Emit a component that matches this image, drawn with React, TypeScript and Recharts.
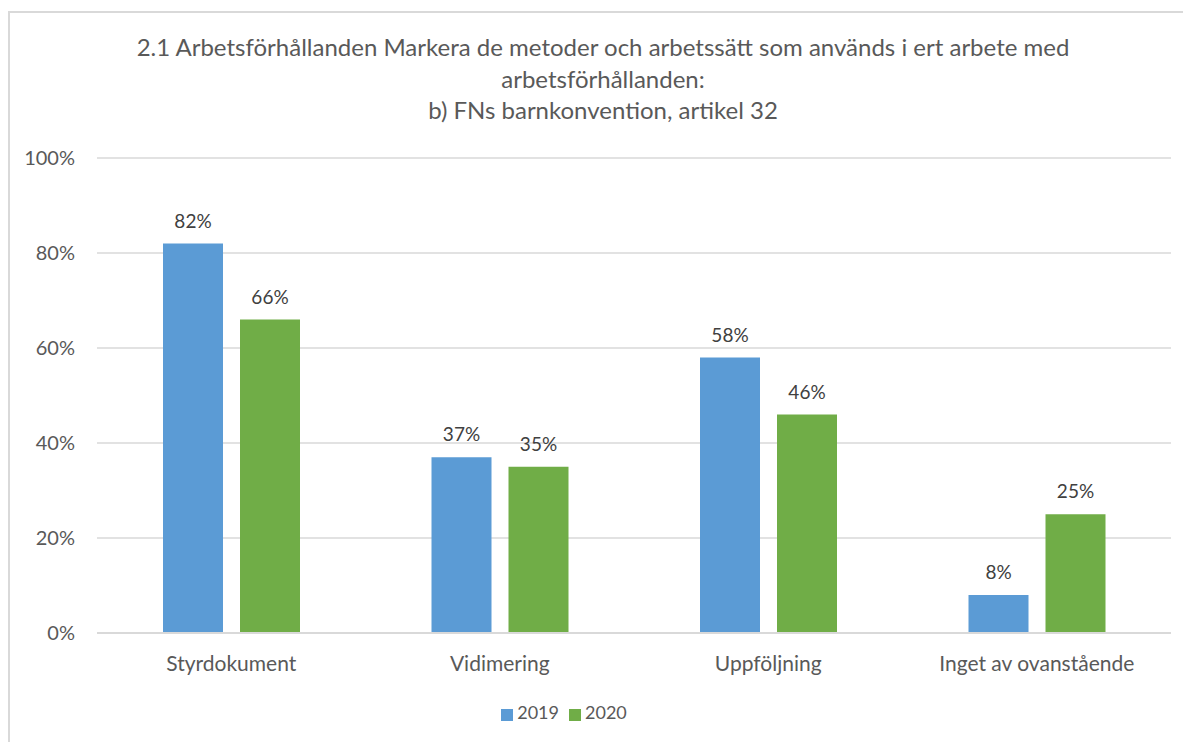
import React from "react"
import { Bar, BarChart, CartesianGrid, LabelList, Legend, XAxis, YAxis } from "recharts"

const categories = ["Styrdokument", "Vidimering", "Uppföljning", "Inget av ovanstående"]
const values2019 = [82, 37, 58, 8]
const values2020 = [66, 35, 46, 25]
const yTicks = [0, 20, 40, 60, 80, 100]

const titleLines = [
  "2.1 Arbetsförhållanden Markera de metoder och arbetssätt som används i ert arbete med",
  "arbetsförhållanden:",
  "b) FNs barnkonvention, artikel 32",
]

const data = categories.map((name, i) => ({
  name,
  y2019: values2019[i],
  y2020: values2020[i],
}))

const font = "Lato, 'Open Sans', sans-serif"
const pct = (v: number) => `${v}%`

export default function App() {
  return (
    <div style={{ position: "relative", width: 1183, height: 734, fontFamily: font, overflow: "hidden" }}>
      <div
        style={{
          position: "absolute",
          top: 3,
          left: 0,
          right: 0,
          bottom: 0,
          borderTop: "2px solid #d9d9d9",
          borderLeft: "2px solid #d9d9d9",
        }}
      />
      <div
        style={{
          position: "absolute",
          top: 23,
          left: 0,
          width: 1190,
          textAlign: "center",
          fontSize: 24,
          lineHeight: "31.5px",
          color: "#595959",
        }}
      >
        {titleLines.map((t) => (
          <div key={t}>{t}</div>
        ))}
      </div>
      <BarChart
        width={1183}
        height={734}
        data={data}
        margin={{ top: 150, right: 20, bottom: 17, left: 0 }}
        barGap={17}
        barSize={60}
        style={{ position: "absolute", top: 0, left: 0 }}
      >
        <CartesianGrid vertical={false} stroke="#d9d9d9" strokeWidth={1.5} />
        <XAxis
          dataKey="name"
          height={68}
          tickLine={false}
          tickSize={0}
          tickMargin={23}
          axisLine={{ stroke: "#d9d9d9", strokeWidth: 2 }}
          tick={{ fill: "#595959", fontSize: 21, fontFamily: font }}
        />
        <YAxis
          width={89}
          domain={[0, 100]}
          ticks={yTicks}
          tickFormatter={pct}
          axisLine={false}
          tickLine={false}
          tickSize={0}
          tickMargin={22}
          tick={{ fill: "#595959", fontSize: 20, fontFamily: font }}
        />
        <Legend
          verticalAlign="bottom"
          align="center"
          iconType="square"
          iconSize={12}
          height={24}
          formatter={(value) => <span style={{ color: "#595959", fontSize: 18 }}>{value}</span>}
          wrapperStyle={{ fontFamily: font, left: 0, width: 1122 }}
        />
        <Bar dataKey="y2019" name="2019" fill="#5b9bd5" isAnimationActive={false}>
          <LabelList dataKey="y2019" position="top" offset={16} formatter={pct} fill="#404040" fontSize={19} fontFamily={font} />
        </Bar>
        <Bar dataKey="y2020" name="2020" fill="#70ad47" isAnimationActive={false}>
          <LabelList dataKey="y2020" position="top" offset={16} formatter={pct} fill="#404040" fontSize={19} fontFamily={font} />
        </Bar>
      </BarChart>
    </div>
  )
}
